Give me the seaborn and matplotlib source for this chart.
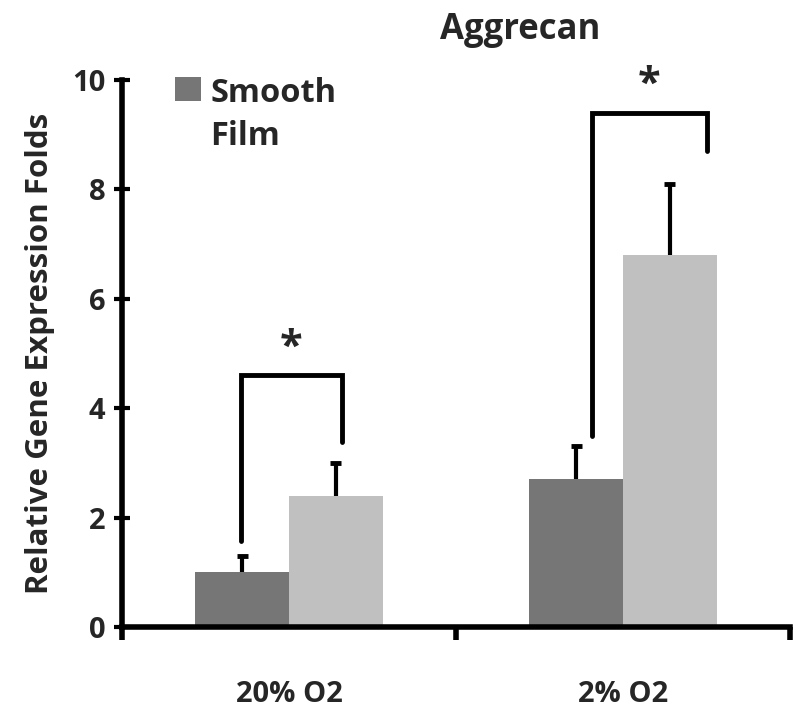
import matplotlib
matplotlib.use("Agg")
import matplotlib.pyplot as plt
import seaborn as sns
import pandas as pd
import numpy as np

conditions = ["20% O2", "2% O2"]
series = ["Smooth Film", "Other Film"]
smooth_vals = [1.0, 2.7]
other_vals = [2.4, 6.8]
smooth_err = [0.3, 0.6]
other_err = [0.6, 1.3]
yticks = [0, 2, 4, 6, 8, 10]

df = pd.DataFrame({
    "Condition": conditions * 2,
    "Series": [series[0]] * 2 + [series[1]] * 2,
    "Value": smooth_vals + other_vals,
    "Err": smooth_err + other_err,
})

sns.set_theme(style="white")
plt.rcParams["font.family"] = ["Open Sans", "DejaVu Sans"]
plt.rcParams["font.weight"] = "bold"

fig = plt.figure(figsize=(8, 7.08), dpi=100)
ax = fig.add_axes([0.1525, 0.1144, 0.835, 0.7726])

palette = {series[0]: "#767676", series[1]: "#c0c0c0"}
sns.barplot(data=df, x="Condition", y="Value", hue="Series", order=conditions,
            hue_order=series, palette=palette, errorbar=None, width=0.56,
            saturation=1, linewidth=0, ax=ax, legend=True)

# error bars (upper only, cap at top)
cap = 0.016
for cont, errs in zip(ax.containers, [smooth_err, other_err]):
    for bar, e in zip(cont, errs):
        xc = bar.get_x() + bar.get_width() / 2
        h = bar.get_height()
        ax.plot([xc, xc], [h, h + e], color="black", lw=3, solid_capstyle="butt")
        ax.plot([xc - cap, xc + cap], [h + e, h + e], color="black", lw=3.5,
                solid_capstyle="butt")

# significance brackets
brackets = [(-0.144, 0.159, 1.57, 3.38, 4.6), (0.907, 1.251, 3.5, 8.7, 9.4)]
for x1, x2, yl, yr, top in brackets:
    ax.plot([x1, x1, x2, x2], [yl, top, top, yr], color="black", lw=3.5,
            solid_joinstyle="miter", clip_on=False)
    ax.text((x1 + x2) / 2, top + 0.12, "*", ha="center", va="bottom",
            fontsize=30, fontweight="bold")

ax.set_xlim(-0.5, 1.5)
ax.set_ylim(0, 10)
ax.set_yticks(yticks)
ax.set_yticklabels([str(t) for t in yticks], fontsize=21, fontweight="bold")
ax.set_xticks([-0.5, 0.5, 1.5], minor=False)
ax.set_xticklabels([])
ax.set_xticks([0, 1], minor=True)
ax.set_xticklabels(conditions, minor=True, fontsize=21, fontweight="bold")
ax.tick_params(axis="x", which="minor", length=0, pad=38)
ax.tick_params(axis="x", which="major", direction="out", length=9, width=4, color="black", bottom=True)
ax.tick_params(axis="y", direction="inout", length=12, width=3, color="black", left=True, pad=6)
ax.set_xlabel("")
ax.set_ylabel("Relative Gene Expression Folds", fontsize=22.5, fontweight="bold", labelpad=12)

sns.despine(ax=ax)
for s in ["left", "bottom"]:
    ax.spines[s].set_linewidth(4)
    ax.spines[s].set_color("black")

# legend: only first series shown, square aligned with first line
handles, labels = ax.get_legend_handles_labels()
leg = ax.legend([handles[0]], ["Smooth\nFilm"], loc="upper left", bbox_to_anchor=(0.06, 1.03),
                frameon=False, handlelength=0.78, handleheight=0.78, handletextpad=0.3,
                prop={"size": 23.5, "weight": "bold"}, borderaxespad=0)
for t in leg.get_texts():
    t.set_linespacing(1.4)
for vp in leg._legend_handle_box.get_children():
    for hp in vp.get_children():
        hp.align = "top"

fig.text(0.65, 0.958, "Aggrecan", ha="center", va="center", fontsize=25, fontweight="bold")

fig.savefig("out.png", dpi=100)
